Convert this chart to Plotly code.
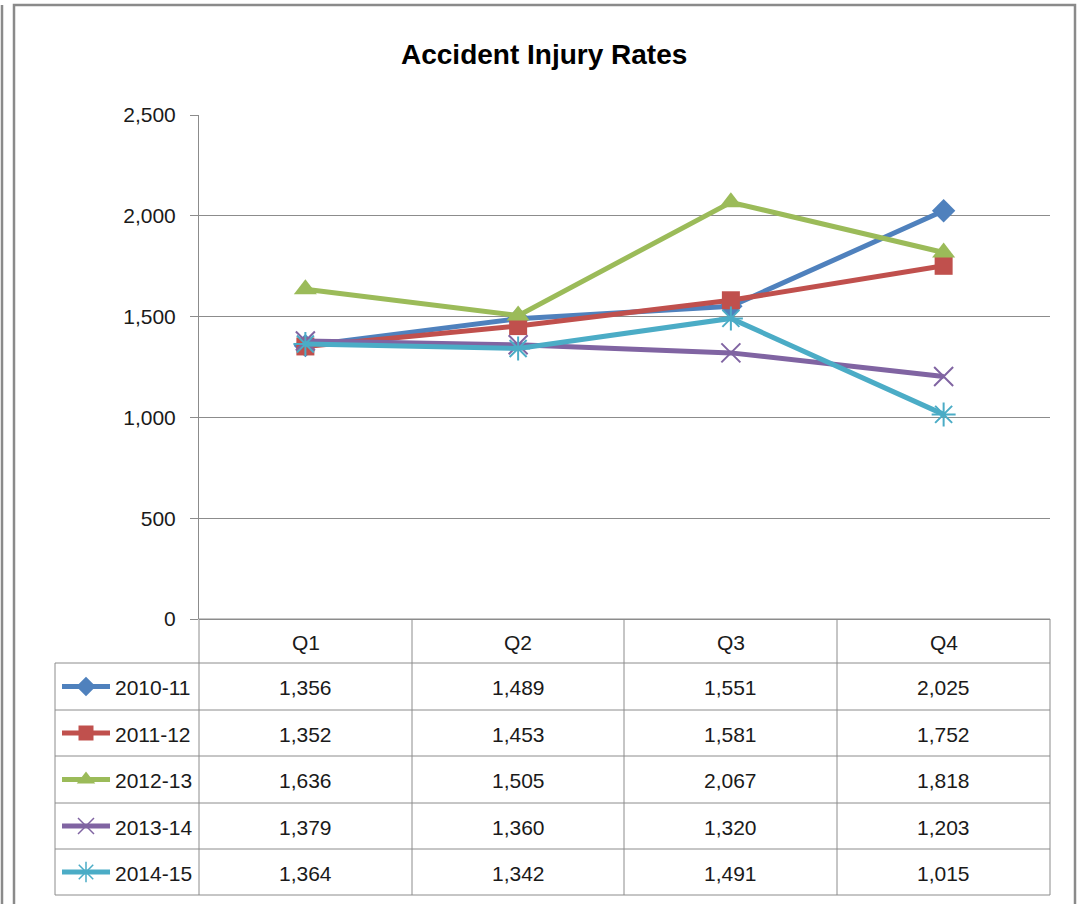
import plotly.graph_objects as go

W, H = 1079, 904

title = "Accident Injury Rates"
quarters = ["Q1", "Q2", "Q3", "Q4"]
series_names = ["2010-11", "2011-12", "2012-13", "2013-14", "2014-15"]
v_2010_11 = [1356, 1489, 1551, 2025]
v_2011_12 = [1352, 1453, 1581, 1752]
v_2012_13 = [1636, 1505, 2067, 1818]
v_2013_14 = [1379, 1360, 1320, 1203]
v_2014_15 = [1364, 1342, 1491, 1015]
series_values = [v_2010_11, v_2011_12, v_2012_13, v_2013_14, v_2014_15]

colors = ["#4F81BD", "#C0504D", "#9BBB59", "#8064A2", "#4BACC6"]
symbols = ["diamond", "square", "triangle-up", "x-thin-open", "asterisk-open"]
sizes = [18, 18, 20, 19, 20]
key_sizes = [15, 15, 16, 16, 17]

FONT = "Liberation Sans, Arial, sans-serif"
GRID = "#8C8C8C"

def px(x):
    return x / W

def py(y):
    return 1 - y / H

# layout geometry (pixels)
PL, PR, PT, PB = 199, 1050, 115, 619
TL = 55
row_edges = [619, 663, 710, 756, 803, 849, 895]
col_edges = [199, 412, 624, 837, 1050]

fig = go.Figure()

for name, vals, c, s, sz in zip(series_names, series_values, colors, symbols, sizes):
    open_sym = s.endswith("open")
    fig.add_trace(go.Scatter(
        x=quarters, y=vals, name=name, mode="lines+markers",
        line=dict(color=c, width=5),
        marker=dict(symbol=s, size=sz, color=c,
                    line=dict(color=c, width=2 if open_sym else 0)),
        xaxis="x", yaxis="y", showlegend=False,
    ))

# legend keys inside the data table (pixel-space helper axes)
for i, (name, c, s, sz) in enumerate(zip(series_names, colors, symbols, key_sizes)):
    yc = (row_edges[i + 1] + row_edges[i + 2]) / 2
    open_sym = s.endswith("open")
    fig.add_trace(go.Scatter(
        x=[62, 110], y=[yc, yc], mode="lines",
        line=dict(color=c, width=5), xaxis="x2", yaxis="y2",
        showlegend=False, hoverinfo="skip",
    ))
    fig.add_trace(go.Scatter(
        x=[86], y=[yc], mode="markers",
        marker=dict(symbol=s, size=sz, color=c,
                    line=dict(color=c, width=1.5 if open_sym else 0)),
        xaxis="x2", yaxis="y2", showlegend=False, hoverinfo="skip",
    ))

shapes = []
def hline(y, x0, x1, color=GRID, width=1):
    shapes.append(dict(type="line", xref="paper", yref="paper",
                       x0=px(x0), x1=px(x1), y0=py(y), y1=py(y),
                       line=dict(color=color, width=width)))

def vline(x, y0, y1, color=GRID, width=1):
    shapes.append(dict(type="line", xref="paper", yref="paper",
                       x0=px(x), x1=px(x), y0=py(y0), y1=py(y1),
                       line=dict(color=color, width=width)))

# data table grid
hline(row_edges[0], PL, PR)
for y in row_edges[1:]:
    hline(y, TL, PR)
for x in col_edges:
    vline(x, row_edges[0], row_edges[-1])
vline(TL, row_edges[1], row_edges[-1])

# chart frame
FR = "#8A8A8A"
shapes.append(dict(type="rect", xref="paper", yref="paper",
                   x0=px(14), x1=px(1075), y0=py(5), y1=py(915),
                   line=dict(color=FR, width=2.5), fillcolor="rgba(0,0,0,0)"))
vline(2, 5, 904, color=FR, width=2.5)

annotations = [dict(text="<b>" + title + "</b>", x=px(544), y=py(55),
                    xref="paper", yref="paper", showarrow=False,
                    font=dict(family=FONT, size=28, color="#000000"),
                    xanchor="center", yanchor="middle")]

tfont = dict(family=FONT, size=21, color="#1A1A1A")
for j, q in enumerate(quarters):
    xc = (col_edges[j] + col_edges[j + 1]) / 2
    annotations.append(dict(text=q, x=px(xc), y=py((row_edges[0] + row_edges[1]) / 2 + 1),
                            xref="paper", yref="paper", showarrow=False, font=tfont,
                            xanchor="center", yanchor="middle"))
for i, (name, vals) in enumerate(zip(series_names, series_values)):
    yc = (row_edges[i + 1] + row_edges[i + 2]) / 2 + 1
    annotations.append(dict(text=name, x=px(113), y=py(yc), xref="paper", yref="paper",
                            showarrow=False, font=tfont, xanchor="left", yanchor="middle"))
    for j, v in enumerate(vals):
        xc = (col_edges[j] + col_edges[j + 1]) / 2
        annotations.append(dict(text=f"{v:,}", x=px(xc), y=py(yc), xref="paper", yref="paper",
                                showarrow=False, font=tfont, xanchor="center", yanchor="middle"))

fig.update_layout(
    width=W, height=H, autosize=False,
    margin=dict(l=0, r=0, t=0, b=0, pad=0, autoexpand=False),
    paper_bgcolor="white", plot_bgcolor="rgba(0,0,0,0)",
    shapes=shapes, annotations=annotations,
    xaxis=dict(domain=[px(PL), px(PR)], type="category", range=[-0.5, 3.5],
               showgrid=False, showline=False, zeroline=False,
               showticklabels=False, ticks=""),
    yaxis=dict(domain=[py(PB), py(PT)], range=[0, 2500], dtick=500,
               tickformat=",", showgrid=True, gridcolor=GRID, gridwidth=1,
               zeroline=True, zerolinecolor=GRID, zerolinewidth=1,
               showline=True, linecolor=GRID, linewidth=1,
               ticks="outside", ticklen=8, tickcolor=GRID,
               ticklabelstandoff=10,
               tickfont=dict(family=FONT, size=21, color="#1A1A1A")),
    xaxis2=dict(domain=[0, 1], range=[0, W], visible=False, anchor="y2"),
    yaxis2=dict(domain=[0, 1], range=[H, 0], visible=False, anchor="x2"),
)

fig.write_html("out.html", config={"displayModeBar": False},
               post_script="document.body.style.margin='0px';")
